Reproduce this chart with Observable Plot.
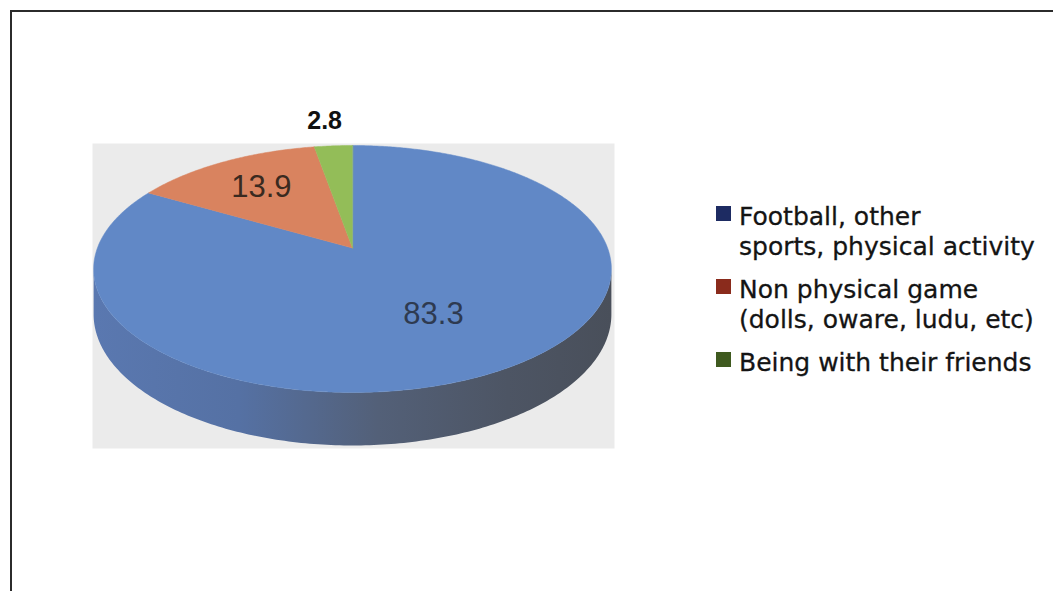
<!DOCTYPE html>
<html>
<head>
<meta charset="utf-8">
<script src="https://cdn.jsdelivr.net/npm/d3@7"></script>
<script src="https://cdn.jsdelivr.net/npm/@observablehq/plot@0.6"></script>
<style>
  html, body { margin: 0; padding: 0; background: #fff; }
  #wrap { position: relative; width: 1053px; height: 591px; overflow: hidden; background: #fff; }
  #chart { position: absolute; left: 0; top: 0; }
  #border { position: absolute; left: 10px; top: 10px; width: 1100px; height: 700px;
            border-top: 2px solid #2b2b2b; border-left: 2px solid #2b2b2b; pointer-events: none; }
  .line { position: absolute; left: 739px; font-family: "DejaVu Sans", sans-serif;
          font-size: 25px; line-height: 29.5px; height: 29.5px; color: #141414; white-space: nowrap;
          -webkit-text-stroke: 0.3px #141414; }
  .sw { position: absolute; left: 716px; width: 15px; height: 15px; }
</style>
</head>
<body>
<div id="wrap">
  <div id="chart"></div>
  <div id="legend"></div>
  <div id="border"></div>
</div>
<script>
// ---------------- data ----------------
const categories = [
  "Football, other sports, physical activity",
  "Non physical game (dolls, oware, ludu, etc)",
  "Being with their friends"
];
const values = [83.3, 13.9, 2.8];
const valueLabels = ["83.3", "13.9", "2.8"];
const legendLines = [
  ["Football, other", "sports, physical activity"],
  ["Non physical game", "(dolls, oware, ludu, etc)"],
  ["Being with their friends"]
];

// ---------------- styles ----------------
const sliceColors = ["#6188c6", "#d9835f", "#93bd58"];
const legendColors = ["#1d2b62", "#8a2b1c", "#3f5a1f"];
const labelRadius = [0.58, 0.68, 1.3];   // relative label distance from centre

// ---------------- layout ----------------
const W = 1053, H = 591;
const bg = {left: 92, right: 614, top: 143, bottom: 448};   // grey panel
const pie = {cx: 352, cy: 268.5, rx: 259, ry: 123.5};        // top ellipse in px
const C = -0.17;      // perspective factor
const S = 0.985;      // x normalisation
const DEPTH = 0.356;  // thickness in y units

function proj(theta, r, h) {
  const X = r * Math.sin(theta), Z = -r * Math.cos(theta);
  const den = 1 + C * Z;
  return [S * X / den, (Z + C + h) / den];
}

const arcs = d3.pie().sort(null).startAngle(0).endAngle(2 * Math.PI)(values);

// top faces
const topRows = [];
arcs.forEach((a, i) => {
  const [ax, ay] = proj(0, 0, 0);
  topRows.push({id: "t" + i, x: ax, y: ay, fill: sliceColors[i]});
  const n = Math.max(4, Math.ceil((a.endAngle - a.startAngle) / (Math.PI / 360)));
  for (let k = 0; k <= n; k++) {
    const t = a.startAngle + (a.endAngle - a.startAngle) * k / n;
    const [x, y] = proj(t, 1, 0);
    topRows.push({id: "t" + i, x, y, fill: sliceColors[i]});
  }
});

// side (visible outer wall of the first slice)
const th1 = Math.acos(C), th2 = 2 * Math.PI - Math.acos(C);
const sideRows = [];
const NS = 200;
for (let k = 0; k <= NS; k++) {
  const [x, y] = proj(th1 + (th2 - th1) * k / NS, 1, 0);
  sideRows.push({x, y});
}
for (let k = NS; k >= 0; k--) {
  const [x, y] = proj(th1 + (th2 - th1) * k / NS, 1, DEPTH);
  sideRows.push({x, y});
}

// gradient definition for the wall shading
function gradientDefs() {
  const ns = "http://www.w3.org/2000/svg";
  const defs = document.createElementNS(ns, "defs");
  const g = document.createElementNS(ns, "linearGradient");
  g.setAttribute("id", "sideGrad");
  g.setAttribute("x1", "0"); g.setAttribute("x2", "1");
  g.setAttribute("y1", "0"); g.setAttribute("y2", "0");
  [[0, "#5a78b0"], [0.28, "#5571a4"], [0.55, "#536078"], [0.8, "#4d5564"], [1, "#494f5a"]].forEach(([o, c]) => {
    const s = document.createElementNS(ns, "stop");
    s.setAttribute("offset", o);
    s.setAttribute("stop-color", c);
    g.appendChild(s);
  });
  defs.appendChild(g);
  return defs;
}

// labels
const inside = arcs.slice(0, 2).map((a, i) => {
  const [x, y] = proj((a.startAngle + a.endAngle) / 2, labelRadius[i], 0);
  return {x, y, label: valueLabels[i], color: i === 0 ? "#2e3a50" : "#3a2a20"};
});
const outside = arcs.slice(2).map((a, i) => {
  const [x, y] = proj((a.startAngle + a.endAngle) / 2, labelRadius[i + 2], 0);
  return {x, y, label: valueLabels[i + 2]};
});

// scales: unit coords -> px
const xDom = [(bg.left - pie.cx) / pie.rx, (bg.right - pie.cx) / pie.rx];
const yDom = [(bg.top - pie.cy) / pie.ry, (bg.bottom - pie.cy) / pie.ry];

const chart = Plot.plot({
  width: W, height: H,
  marginLeft: bg.left, marginRight: W - bg.right, marginTop: bg.top, marginBottom: H - bg.bottom,
  x: {domain: xDom, range: [bg.left, bg.right], axis: null},
  y: {domain: yDom, range: [bg.top, bg.bottom], axis: null},
  color: {type: "identity"},
  style: {background: "transparent"},
  marks: [
    gradientDefs,
    Plot.frame({fill: "#ebebeb", stroke: "none"}),
    Plot.line(sideRows, {x: "x", y: "y", fill: "url(#sideGrad)", stroke: "none", curve: "linear-closed"}),
    Plot.line(topRows, {x: "x", y: "y", z: "id", fill: "fill", stroke: "fill", strokeWidth: 0.5, curve: "linear-closed"}),
    Plot.text(inside, {x: "x", y: "y", text: "label", fill: "color", fontSize: 31,
      fontFamily: "'Liberation Sans Narrow', 'Arial Narrow', sans-serif", textAnchor: "middle", lineAnchor: "middle"}),
    Plot.text(outside, {x: "x", y: "y", text: "label", fill: "#111", fontSize: 25, fontWeight: "bold",
      fontFamily: "'Liberation Sans', Arial, sans-serif", textAnchor: "middle", lineAnchor: "middle", dx: -4})
  ]
});
document.getElementById("chart").appendChild(chart);

// legend: one element per text line
const legendTops = [202, 275, 348];
const lineStep = 29.5;
const leg = document.getElementById("legend");
legendLines.forEach((lines, i) => {
  const sw = document.createElement("div");
  sw.className = "sw";
  sw.style.top = (legendTops[i] + 4) + "px";
  sw.style.background = legendColors[i];
  sw.title = categories[i];
  leg.appendChild(sw);
  lines.forEach((ln, j) => {
    const d = document.createElement("div");
    d.className = "line";
    d.style.top = (legendTops[i] + j * lineStep) + "px";
    d.textContent = ln;
    leg.appendChild(d);
  });
});
</script>
</body>
</html>
